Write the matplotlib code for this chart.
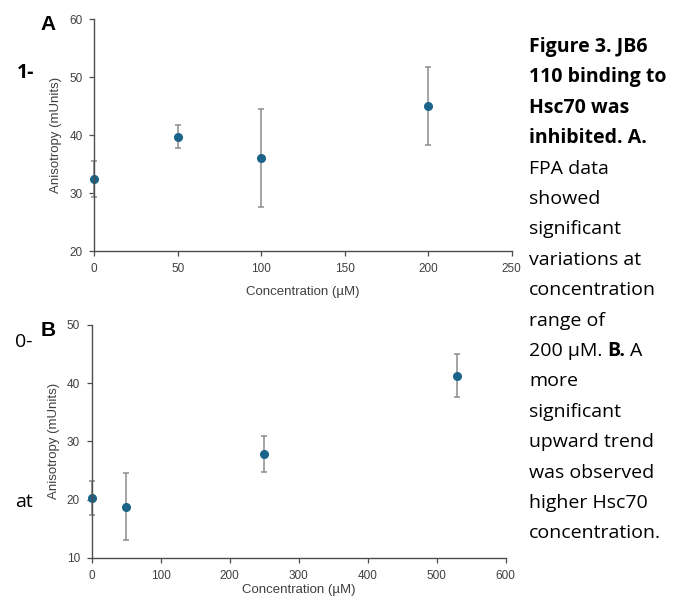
import matplotlib.pyplot as plt

# Panel A data
conc_a = [0, 50, 100, 200]
aniso_a = [32.4, 39.7, 36.1, 45.0]
err_a = [3.1, 2.0, 8.5, 6.7]

# Panel B data
conc_b = [0, 50, 250, 530]
aniso_b = [20.3, 18.8, 27.8, 41.3]
err_b = [2.9, 5.7, 3.1, 3.7]

caption = [
    ('Figure 3. JB6', 'bold'),
    ('110 binding to', 'bold'),
    ('Hsc70 was', 'bold'),
    ('inhibited. A.', 'bold'),
    ('FPA data', 'normal'),
    ('showed', 'normal'),
    ('significant', 'normal'),
    ('variations at', 'normal'),
    ('concentration', 'normal'),
    ('range of', 'normal'),
    (None, None),  # mixed line
    ('more', 'normal'),
    ('significant', 'normal'),
    ('upward trend', 'normal'),
    ('was observed', 'normal'),
    ('higher Hsc70', 'normal'),
    ('concentration.', 'normal'),
]

W, H = 689, 602
fig = plt.figure(figsize=(W / 100, H / 100), dpi=100)

dot = '#1b6388'
ebar = '#8c8c8c'
axcol = '#4d4d4d'
txtcol = '#404040'
lab_font = 'Liberation Sans'
cap_font = 'Open Sans'
cap_size = 14


def panel(rect, x, y, e, xlim, xticks, ylim, yticks, xpad):
    ax = fig.add_axes(rect)
    ax.errorbar(x, y, yerr=e, fmt='o', color=dot, markersize=5.5,
                ecolor=ebar, elinewidth=1.1, capsize=2.5, capthick=1.1,
                clip_on=False, zorder=3)
    ax.set_xlim(*xlim)
    ax.set_ylim(*ylim)
    ax.set_xticks(xticks)
    ax.set_yticks(yticks)
    for s in ['top', 'right']:
        ax.spines[s].set_visible(False)
    for s in ['left', 'bottom']:
        ax.spines[s].set_color(axcol)
        ax.spines[s].set_linewidth(1.0)
        ax.spines[s].set_zorder(4)
    ax.tick_params(colors=axcol, length=3.5, width=0.9, labelsize=8.5,
                   labelcolor=txtcol, pad=5)
    for lbl in ax.get_xticklabels() + ax.get_yticklabels():
        lbl.set_fontfamily(lab_font)
    ax.set_xlabel('Concentration (µM)', fontsize=9.5, color=txtcol,
                  fontfamily=lab_font, labelpad=xpad)
    ax.set_ylabel('Anisotropy (mUnits)', fontsize=9.5, color=txtcol,
                  fontfamily=lab_font, labelpad=5)
    return ax


ax_a = panel([94.3 / W, 1 - 251 / H, 417.5 / W, 231.7 / H],
             conc_a, aniso_a, err_a, (0, 250), range(0, 251, 50),
             (20, 60), range(20, 61, 10), 8)
ax_b = panel([91.7 / W, 1 - 557.7 / H, 414 / W, 232.7 / H],
             conc_b, aniso_b, err_b, (0, 600), range(0, 601, 100),
             (10, 50), range(10, 51, 10), 2)

# panel letters and stray text fragments
fig.text(40 / W, 1 - 25 / H, 'A', fontsize=15, fontweight='bold',
         fontfamily=lab_font, va='center', ha='left')
fig.text(41 / W, 1 - 331 / H, 'B', fontsize=15, fontweight='bold',
         fontfamily=lab_font, va='center', ha='left')
fig.text(17 / W, 1 - 73 / H, '1-', fontsize=cap_size, fontweight='bold',
         fontfamily=cap_font, va='center', ha='left')
fig.text(15 / W, 1 - 342 / H, '0-', fontsize=cap_size,
         fontfamily=cap_font, va='center', ha='left')
fig.text(15 / W, 1 - 502 / H, 'at', fontsize=cap_size,
         fontfamily=cap_font, va='center', ha='left')

# caption on the right
x0 = 529 / W
for i, (line, weight) in enumerate(caption):
    yb = 1 - (52 + i * 30.4) / H
    if line is None:
        t1 = fig.text(x0, yb, '200 µM.', fontsize=cap_size,
                      fontfamily=cap_font, va='baseline', ha='left')
        t2 = fig.text(0, yb, 'B.', fontsize=cap_size, fontweight='bold',
                      fontfamily=cap_font, va='baseline', ha='left')
        fig.canvas.draw()
        bb = t1.get_window_extent()
        t2.set_x((bb.x1 + 5) / W)
        fig.canvas.draw()
        bb2 = t2.get_window_extent()
        fig.text((bb2.x1 + 5) / W, yb, 'A', fontsize=cap_size,
                 fontfamily=cap_font, va='baseline', ha='left')
    else:
        fig.text(x0, yb, line, fontsize=cap_size, fontweight=weight,
                 fontfamily=cap_font, va='baseline', ha='left')

fig.savefig('out.png', dpi=100)
